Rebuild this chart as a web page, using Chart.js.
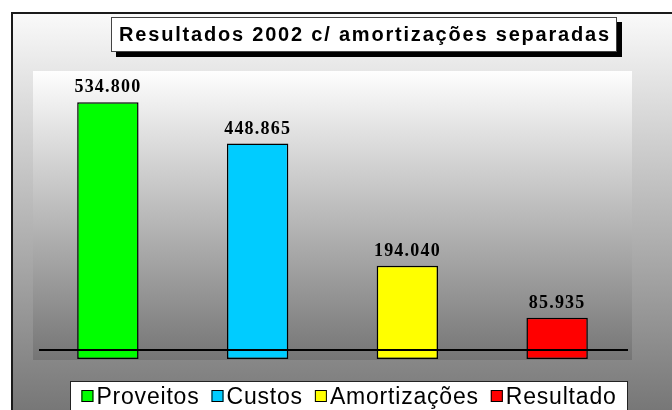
<!DOCTYPE html>
<html><head><meta charset="utf-8">
<script src="https://cdn.jsdelivr.net/npm/chart.js@4/dist/chart.umd.min.js"></script>
<style>html,body{margin:0;padding:0;background:#fff;overflow:hidden}
#wrap{width:672px;height:410px;position:relative}</style>
</head><body><div id="wrap"><canvas id="c" width="672" height="410"></canvas></div>
<script>
const categories = ['Proveitos', 'Custos', 'Amortizações', 'Resultado'];
const values = [534800, 448865, 194040, 85935];
const barColors = ['#00FF00', '#00CCFF', '#FFFF00', '#FF0000'];
const chartTitle = 'Resultados 2002 c/ amortizações separadas';
const yMin = 0, yMax = 600000;
const axisLineValue = 19000;

function fmt(v) { return String(v).replace(/\B(?=(\d{3})+(?!\d))/g, '.'); }

const decor = {
  id: 'decor',
  beforeDraw(chart) {
    const ctx = chart.ctx, a = chart.chartArea, W = chart.width, H = chart.height;
    ctx.save();
    ctx.fillStyle = '#fff';
    ctx.fillRect(0, 0, W, H);
    let g = ctx.createLinearGradient(0, 12, 0, H);
    g.addColorStop(0, '#fafafa');
    g.addColorStop(1, '#777777');
    ctx.fillStyle = g;
    ctx.fillRect(11, 12, W - 11, H - 12);
    ctx.strokeStyle = '#1a1a1a';
    ctx.lineWidth = 2;
    ctx.beginPath();
    ctx.moveTo(12, H); ctx.lineTo(12, 13); ctx.lineTo(W, 13);
    ctx.stroke();
    g = ctx.createLinearGradient(0, a.top, 0, a.bottom + 1);
    g.addColorStop(0, '#fefefe');
    g.addColorStop(1, '#757575');
    ctx.fillStyle = g;
    ctx.fillRect(a.left, a.top, a.right - a.left, a.bottom - a.top + 1);
    ctx.restore();
  },
  afterDatasetsDraw(chart) {
    const ctx = chart.ctx, a = chart.chartArea, ys = chart.scales.y;
    ctx.save();
    const yl = Math.round(ys.getPixelForValue(axisLineValue));
    ctx.strokeStyle = '#000';
    ctx.lineWidth = 2;
    ctx.beginPath();
    ctx.moveTo(a.left + 6, yl); ctx.lineTo(a.right - 4, yl);
    ctx.stroke();
    ctx.fillStyle = '#000';
    ctx.font = 'bold 18px "Liberation Serif", "Times New Roman", serif';
    ctx.letterSpacing = '1.2px';
    ctx.textAlign = 'center';
    ctx.textBaseline = 'alphabetic';
    chart.getDatasetMeta(0).data.forEach((bar, i) => {
      ctx.fillText(fmt(values[i]), bar.x, bar.y - 10);
    });
    ctx.restore();
  },
  afterDraw(chart) {
    const ctx = chart.ctx;
    ctx.save();
    const bx = 111, by = 17, bw = 506, bh = 35;
    ctx.fillStyle = '#000';
    ctx.fillRect(bx + 5, by + 5, bw, bh);
    ctx.fillStyle = '#fff';
    ctx.fillRect(bx, by, bw, bh);
    ctx.strokeStyle = '#444';
    ctx.lineWidth = 1;
    ctx.strokeRect(bx + 0.5, by + 0.5, bw - 1, bh - 1);
    ctx.fillStyle = '#000';
    ctx.font = 'bold 20px "Liberation Sans", Arial, sans-serif';
    ctx.letterSpacing = '1.8px';
    ctx.textAlign = 'center';
    ctx.textBaseline = 'middle';
    ctx.fillText(chartTitle, bx + bw / 2 + 1, by + bh / 2 + 1);
    const lx = 70, ly = 381, lw = 558, lh = 40;
    ctx.fillStyle = '#fff';
    ctx.fillRect(lx, ly, lw, lh);
    ctx.strokeStyle = '#222';
    ctx.strokeRect(lx + 0.5, ly + 0.5, lw - 1, lh - 1);
    ctx.font = '23px "Liberation Sans", Arial, sans-serif';
    ctx.letterSpacing = '0.8px';
    ctx.textAlign = 'left';
    ctx.textBaseline = 'alphabetic';
    const sq = 12, gapIn = 3, gapOut = 12;
    const widths = categories.map(c => ctx.measureText(c).width);
    let total = widths.reduce((s, w) => s + w + sq + gapIn, 0) + gapOut * (categories.length - 1);
    let x = lx + (lw - total) / 2;
    categories.forEach((c, i) => {
      ctx.fillStyle = barColors[i];
      ctx.fillRect(x, 390, sq, sq);
      ctx.strokeStyle = '#000';
      ctx.strokeRect(x + 0.5, 390.5, sq - 1, sq - 1);
      ctx.fillStyle = '#000';
      ctx.fillText(c, x + sq + gapIn, 404);
      x += sq + gapIn + widths[i] + gapOut;
    });
    ctx.restore();
  }
};

new Chart(document.getElementById('c'), {
  type: 'bar',
  data: {
    labels: categories,
    datasets: [{
      label: 'Resultados 2002',
      data: values,
      backgroundColor: barColors,
      borderColor: '#000',
      borderWidth: 1.5,
      borderSkipped: false,
      categoryPercentage: 1,
      barPercentage: 0.41
    }]
  },
  options: {
    responsive: false,
    animation: false,
    devicePixelRatio: 1,
    layout: { padding: { left: 33, right: 40, top: 71, bottom: 51 } },
    plugins: { legend: { display: false }, title: { display: false }, tooltip: { enabled: false } },
    scales: {
      x: { display: false, grid: { display: false } },
      y: { display: false, min: yMin, max: yMax, grid: { display: false } }
    }
  },
  plugins: [decor]
});
</script></body></html>
